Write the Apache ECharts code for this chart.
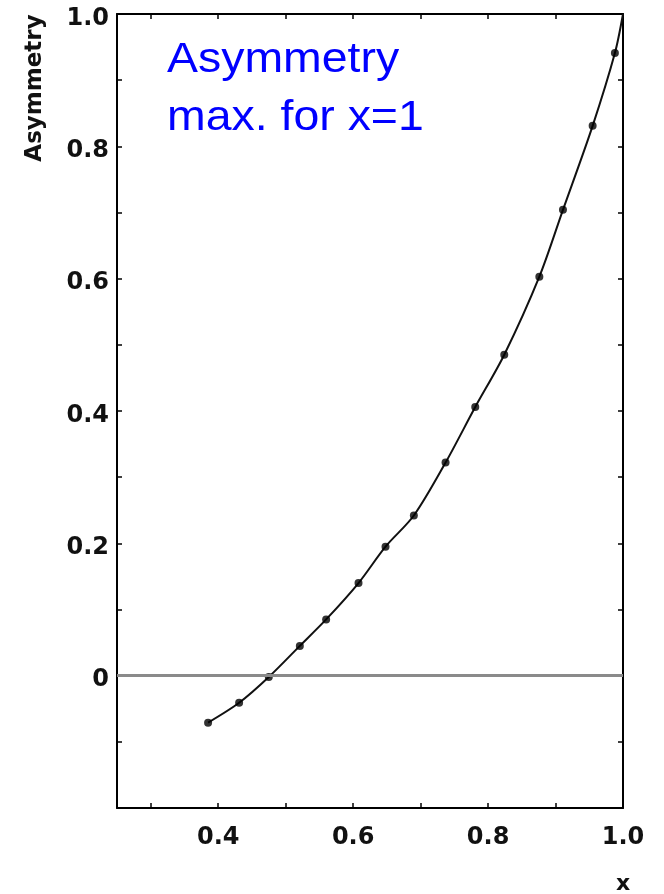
<!DOCTYPE html>
<html>
<head>
<meta charset="utf-8">
<script src="https://cdn.jsdelivr.net/npm/echarts@6/dist/echarts.min.js"></script>
<style>
html,body{margin:0;padding:0;background:#fff;}
#chart{width:664px;height:894px;}
</style>
</head>
<body>
<div id="chart"></div>
<script>
// measured points (x, asymmetry)
const xValues = [0.385, 0.431, 0.475, 0.521, 0.560, 0.608, 0.648, 0.690, 0.737, 0.781, 0.824, 0.876, 0.911, 0.955, 0.988];
const asymValues = [-0.071, -0.041, -0.002, 0.045, 0.085, 0.140, 0.195, 0.242, 0.322, 0.406, 0.485, 0.603, 0.704, 0.831, 0.941];
// curve end point (maximum at x = 1)
const curveEndX = [1.0];
const curveEndY = [1.0];
// axis ticks and labels
const xTickValues = [0.3, 0.4, 0.5, 0.6, 0.7, 0.8, 0.9, 1.0];
const xLabelValues = [0.4, 0.6, 0.8, 1.0];
const yTickValues = [-0.1, 0, 0.1, 0.2, 0.3, 0.4, 0.5, 0.6, 0.7, 0.8, 0.9, 1.0];
const yLabelValues = [0, 0.2, 0.4, 0.6, 0.8, 1.0];
const zeroLineValue = 0;

const pts = xValues.map((x, i) => [x, asymValues[i]]);
const curve = pts.concat(curveEndX.map((x, i) => [x, curveEndY[i]]));

const fmt = v => (Math.abs(v) < 1e-9 ? '0' : v.toFixed(1));
const labelFont = {fontFamily: 'DejaVu Sans', fontWeight: 'bold', fontSize: 24, color: '#111'};

const chart = echarts.init(document.getElementById('chart'), null, {renderer: 'canvas'});
const axisLine = {show: true, onZero: false, lineStyle: {color: '#000', width: 2}};
const tickStyle = {lineStyle: {color: '#000', width: 1.5}};

chart.setOption({
  animation: false,
  backgroundColor: '#fff',
  grid: {left: 117, right: 41, top: 14, bottom: 86, containLabel: false},
  xAxis: [
    {type: 'value', min: 0.25, max: 1.0, position: 'bottom',
     axisLine: axisLine,
     axisTick: {show: true, inside: true, length: 5, customValues: xTickValues, ...tickStyle},
     axisLabel: {show: true, customValues: xLabelValues, formatter: fmt, margin: 18, ...labelFont},
     splitLine: {show: false}},
    {type: 'value', min: 0.25, max: 1.0, position: 'top',
     axisLine: axisLine,
     axisTick: {show: true, inside: true, length: 5, customValues: xTickValues, ...tickStyle},
     axisLabel: {show: false}, splitLine: {show: false}}
  ],
  yAxis: [
    {type: 'value', min: -0.2, max: 1.0, position: 'left',
     axisLine: axisLine,
     axisTick: {show: true, inside: true, length: 5, customValues: yTickValues, ...tickStyle},
     axisLabel: {show: true, customValues: yLabelValues, formatter: fmt, margin: 8,
       verticalAlign: 'top', lineHeight: 9, ...labelFont},
     splitLine: {show: false}},
    {type: 'value', min: -0.2, max: 1.0, position: 'right',
     axisLine: axisLine,
     axisTick: {show: true, inside: true, length: 5, customValues: yTickValues, ...tickStyle},
     axisLabel: {show: false}, splitLine: {show: false}}
  ],
  series: [
    {type: 'line', data: [], z: 1, silent: true,
     markLine: {silent: true, symbol: ['none', 'none'], label: {show: false},
       lineStyle: {color: '#8a8a8a', width: 3, type: 'solid'},
       data: [{yAxis: zeroLineValue}]}},
    {type: 'line', data: curve, smooth: 0.3, showSymbol: false, z: 2,
     lineStyle: {color: '#111', width: 2}},
    {type: 'scatter', data: pts, symbol: 'circle', symbolSize: 8, z: 3,
     itemStyle: {color: '#000'}}
  ],
  graphic: [
    {type: 'text', x: 35, y: 88, rotation: Math.PI / 2,
     style: {text: 'Asymmetry', fontFamily: 'DejaVu Sans', fontWeight: 'bold', fontSize: 23,
       fill: '#111', align: 'center', verticalAlign: 'middle'}},
    {type: 'text', x: 623, y: 884,
     style: {text: 'x', fontFamily: 'DejaVu Sans', fontWeight: 'bold', fontSize: 22,
       fill: '#111', align: 'center', verticalAlign: 'middle'}},
    {type: 'text', x: 167, y: 60, scaleX: 1.08,
     style: {text: 'Asymmetry', fontFamily: 'Liberation Sans', fontSize: 43,
       fill: '#0000ff', align: 'left', verticalAlign: 'middle'}},
    {type: 'text', x: 167, y: 118, scaleX: 1.08,
     style: {text: 'max. for x=1', fontFamily: 'Liberation Sans', fontSize: 43,
       fill: '#0000ff', align: 'left', verticalAlign: 'middle'}}
  ]
});
</script>
</body>
</html>
